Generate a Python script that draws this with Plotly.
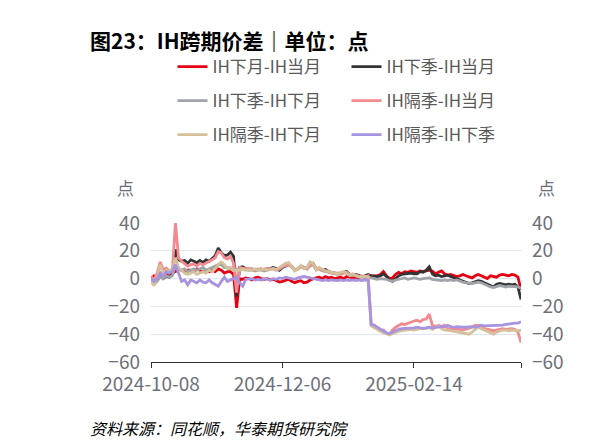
import pandas as pd
import plotly.graph_objects as go

# 交易日（剔除休市日）
holidays = ['2025-01-01', '2025-01-28', '2025-01-29', '2025-01-30', '2025-01-31',
            '2025-02-03', '2025-02-04', '2025-04-04']
dates = pd.bdate_range('2024-10-08', '2025-04-07', freq='C',
                       holidays=holidays).strftime('%Y-%m-%d').tolist()

# IH下月-IH当月
ih_m1_m0 = [0, 2, 1, 4, 3, 4, 3, 4, 5,
            7, 6, 5, 6, 6, 5, 7, 6, 5, 6, 5, 6, 5, 7, 6, 4, 5, 5, 3, -21,
            0, -0.5, 0.5, 0, -1, 0.5, 1, 0, -0.5, 0,
            -1, -0.5, -1.5, -2.5, -2, -1, -0.5, -2, -3, -2,
            -1.5, -3, -2.5, -1, 0, 0.5, 1, 0, 1.5, 0.5,
            1, 0, 0.5, 1, 0, 1.5, 1, 0.5, 1, 0.5,
            1.5, 1, 2,
            2, 2.5, 2, 3, 5, 2, 0, 0.5, 3, 4.5,
            3.5, 5, 4.5, 5.5, 5, 4.5, 5.5, 5, 5.5, 6,
            5.5, 3.5, 4.5, 5.5, 3.5, 2.5, 3, 2, 1.5, 2,
            3, 2, 1, 0.5, 2, 3, 2, 1, 0, 2,
            1.5, 1, 2.5, 3, 2.5, 2, 3, 2.5, 1, -8]

# IH下季-IH当月
ih_q1_m0 = [0, -3, -1, 3, 0, 1.5, 1, 3, 21,
            13.5, 12.5, 13, 11, 13.5, 12.5, 11.5, 13, 11.5, 13.5, 12.5, 14.5, 16.5, 22, 18.5, 16.5, 17, 19, 16, -13,
            8, 8.5, 7, 6.5, 7, 6, 6.5, 7, 6, 6.5,
            7, 8, 7, 6, 8, 9, 10, 9, 6, 7,
            9, 8, 7, 10, 11, 7, 7.5, 6, 6.5, 5,
            4.5, 4, 3.5, 4, 4.5, 5, 3, 2.5, 3, 2,
            1.5, 2, 3,
            2, 1.5, 1.5, 2, 3.5, 1.5, -1, -2, 0, 2,
            3, 3.5, 3.5, 4, 3.5, 3.5, 5, 4.5, 6, 8.5,
            3.5, 2, 2.5, 1.5, 2, 2.5, 1.5, 1, 0, -1,
            -2, -2.5, -3.5, -3, -2, -1.5, -2, -3, -4.5, -5,
            -6, -4, -3.5, -4, -4.5, -4, -4.5, -4, -6, -15]

# IH下季-IH下月
ih_q1_m1 = [-1, -4, -2, 1, 0, 2, 1, 2, 10,
            7, 6, 7, 5, 6, 7, 6, 7, 8, 6, 7, 8, 9, 10, 10, 8, 8, 7, 8, 7,
            6, 7, 6.5, 6, 6.5, 5.5, 6, 6.5, 5.5, 6,
            6.5, 7.5, 6.5, 7, 8.5, 9.5, 10, 8.5, 6, 7,
            8.5, 8, 7, 9, 10, 6.5, 7, 5.5, 5.5, 4.5,
            4, 3.5, 3, 3.5, 4, 4.5, 2, 2, 2.5, 1.5,
            0.5, 1, 1,
            0.5, 0, -0.5, 0, 0, -0.5, -1.5, -2, -1, -0.5,
            0, 0.5, -0.5, 0, 0.5, 0, -0.5, 0, 0.5, 0.5,
            -0.5, -1, -1, -1.5, -1, -1.5, -1, -1.5, -1, -2,
            -2.5, -3, -3.5, -3.5, -3, -2.5, -3, -4, -5.5, -6,
            -6.5, -5.5, -5, -5.5, -6, -5.5, -5.5, -6, -6, -7]

# IH隔季-IH当月
ih_q2_m0 = [1.5, -1, 4, 12, 6.5, 7.5, 5.5, 6.5, 40,
            15, 12.5, 11, 9, 10, 10.5, 9, 11, 10, 11, 12, 13.5, 15, 19.5, 18.5, 15, 14, 16, 11, -10,
            8, 7.5, 7, 7.5, 6, 6.5, 7, 6, 6.5, 7.5,
            7, 7, 6, 7, 9, 9.5, 10, 8.5, 6, 6.5,
            9, 8, 7, 9.5, 10.5, 7.5, 7, 6.5, 5, 5.5,
            4, 3.5, 4, 3, 4, 4.5, 2.5, 3, 2.5, 1.5,
            2, 1.5, 2,
            -33, -35, -36, -37.5, -37, -39.5, -40, -37, -35, -33.5,
            -32.5, -33, -32, -31, -30.5, -30, -31, -29.5, -29, -25.5,
            -33.5, -34.5, -33.5, -34.5, -33.5, -36, -36, -36.5, -36, -36.5,
            -37, -36.5, -36, -35, -33.5, -33.5, -34, -36, -36.5, -37,
            -37.5, -37, -36.5, -36, -36.5, -36, -36, -36.5, -38.5, -46]

# IH隔季-IH下月
ih_q2_m1 = [-2, -5, 1, 10, 4, 6, 5, 7, 15,
            8, 6, 4, 3, 4, 5, 3, 4, 5, 4, 6, 5, 7, 10, 12, 10, 7, 8, 6, 6,
            6, 7, 6, 6.5, 6, 7, 6, 6.5, 7, 6,
            6.5, 7, 6.5, 8, 9.5, 11, 11.5, 9, 5.5, 7,
            9.5, 7, 8, 12, 11, 6, 8, 6.5, 5.5, 5,
            4.5, 4, 3.5, 4.5, 5, 3.5, 2.5, 3.5, 2, 1.5,
            1, 1.5, 1,
            -34, -35, -36.5, -38, -39, -40, -40.5, -39.5, -38.5, -38,
            -37.5, -37, -37, -36.5, -37, -36.5, -36, -35.5, -36, -35,
            -36.5, -35, -34, -36, -37, -37, -37.5, -38, -38.5, -39,
            -39.5, -40, -40, -38.5, -36.5, -35, -36, -37, -38.5, -39.5,
            -40, -38.5, -37.5, -37, -37, -37.5, -37, -37.5, -37.5, -37]

# IH隔季-IH下季
ih_q2_q1 = [0, -2, 0, 4, 1.5, 5, 4, 5.5, 10,
            4, -2, -1, -4.5, -1, -2, -3, -1, -2.5, -3, -1, -3, -4.5, -5.5, -2, 1, -2, -1, 0, 1,
            -3, -5.5, -0.5, -0.5, 0, -1, -0.5, -1, 0, -0.5,
            -1, 0, -0.5, 0.5, 0, 1, 0.5, 0, -0.5, 0.5,
            1, 1.5, 1, 0.5, -0.5, -0.5, -1, -1.5, -1, -1.5,
            -1, -1.5, -1.5, -1, -1.5, -1, -1.5, -1, -1.5, -1,
            -1.5, -1, -1,
            -33, -33.5, -35, -36.5, -37.5, -39, -39.5, -38.5, -37, -36.5,
            -36, -36, -35.5, -36, -35.5, -35, -35.5, -36, -35.5, -35,
            -35.5, -35, -34.5, -34.5, -34.5, -33.5, -34.5, -35, -34.5, -35,
            -35, -35, -34.5, -34.5, -35, -34, -33.5, -34, -34, -34,
            -34, -34, -33.5, -33.5, -33, -32.5, -32.5, -32, -32, -31]

# 名称, 数据, 颜色, 图例行, y轴
series = [
    ('IH下月-IH当月', ih_m1_m0, '#E60012', 'legend', 'y'),
    ('IH下季-IH当月', ih_q1_m0, '#333333', 'legend', 'y'),
    ('IH下季-IH下月', ih_q1_m1, '#A0A4A8', 'legend2', 'y'),
    ('IH隔季-IH当月', ih_q2_m0, '#F28A8F', 'legend2', 'y'),
    ('IH隔季-IH下月', ih_q2_m1, '#D4C09A', 'legend3', 'y'),
    ('IH隔季-IH下季', ih_q2_q1, '#A893E0', 'legend3', 'y2'),
]

font_cn = 'Noto Sans CJK SC'
grey_txt = '#6E7079'

fig = go.Figure()
for name, vals, color, lg, ax in series:
    fig.add_trace(go.Scatter(x=dates, y=vals, mode='lines', name=name, legend=lg,
                             yaxis=ax, line=dict(color=color, width=2.8)))

y_ticks = [-60, -40, -20, 0, 20, 40]
x_ticks = ['2024-10-08', '2024-12-06', '2025-02-14', dates[-1]]
x_text = ['2024-10-08', '2024-12-06', '2025-02-14', '']

leg_common = dict(orientation='h', xref='container', yref='container',
                  xanchor='left', yanchor='middle', x=0.2746,
                  entrywidth=129, entrywidthmode='pixels', bgcolor='rgba(0,0,0,0)',
                  font=dict(family=font_cn, size=17, color='#595959'))

fig.update_layout(
    width=599, height=448,
    margin=dict(l=143, r=86, t=215, b=94, autoexpand=False),
    plot_bgcolor='white', paper_bgcolor='white',
    font=dict(family=font_cn, color=grey_txt),
    legend=dict(leg_common, y=0.8683),
    legend2=dict(leg_common, y=0.7924),
    legend3=dict(leg_common, y=0.7165),
    xaxis=dict(type='category', range=[0, len(dates) - 1],
               tickvals=x_ticks, ticktext=x_text, tickangle=0,
               showgrid=False, showline=True, linecolor='#333333', linewidth=1,
               ticks='outside', ticklen=5, tickcolor='#333333',
               tickfont=dict(size=19, color=grey_txt)),
    yaxis=dict(range=[-60, 40], tickvals=y_ticks, showgrid=True,
               gridcolor='#E0E6F1', gridwidth=1, zeroline=False, showline=False,
               ticks='', ticklabelstandoff=10, tickfont=dict(size=19, color=grey_txt)),
    yaxis2=dict(range=[-60, 40], tickvals=y_ticks, overlaying='y', side='right',
                showgrid=False, zeroline=False, showline=False, ticks='',
                ticklabelstandoff=10, tickfont=dict(size=19, color=grey_txt)),
    annotations=[
        dict(text='<b>图23：IH跨期价差｜单位：点</b>', xref='paper', yref='paper',
             x=-0.17, y=2.317, xanchor='left', yanchor='middle', showarrow=False,
             font=dict(family=font_cn, size=21, color='black')),
        dict(text='点', xref='paper', yref='paper', x=-0.068, y=1.252,
             xanchor='center', yanchor='middle', showarrow=False,
             font=dict(size=17, color=grey_txt)),
        dict(text='点', xref='paper', yref='paper', x=1.068, y=1.252,
             xanchor='center', yanchor='middle', showarrow=False,
             font=dict(size=17, color=grey_txt)),
        dict(text='<i>资料来源：同花顺，华泰期货研究院</i>', xref='paper', yref='paper',
             x=-0.17, y=-0.475, xanchor='left', yanchor='middle', showarrow=False,
             font=dict(family=font_cn, size=16, color='black')),
        dict(text='<b>图</b>', xref='paper', yref='paper', x=1.203, y=2.317,
             xanchor='left', yanchor='middle', showarrow=False,
             font=dict(family=font_cn, size=21, color='black')),
        dict(text='<i>资</i>', xref='paper', yref='paper', x=1.203, y=-0.475,
             xanchor='left', yanchor='middle', showarrow=False,
             font=dict(family=font_cn, size=16, color='black')),
    ],
)

fig.write_html('out.html')
